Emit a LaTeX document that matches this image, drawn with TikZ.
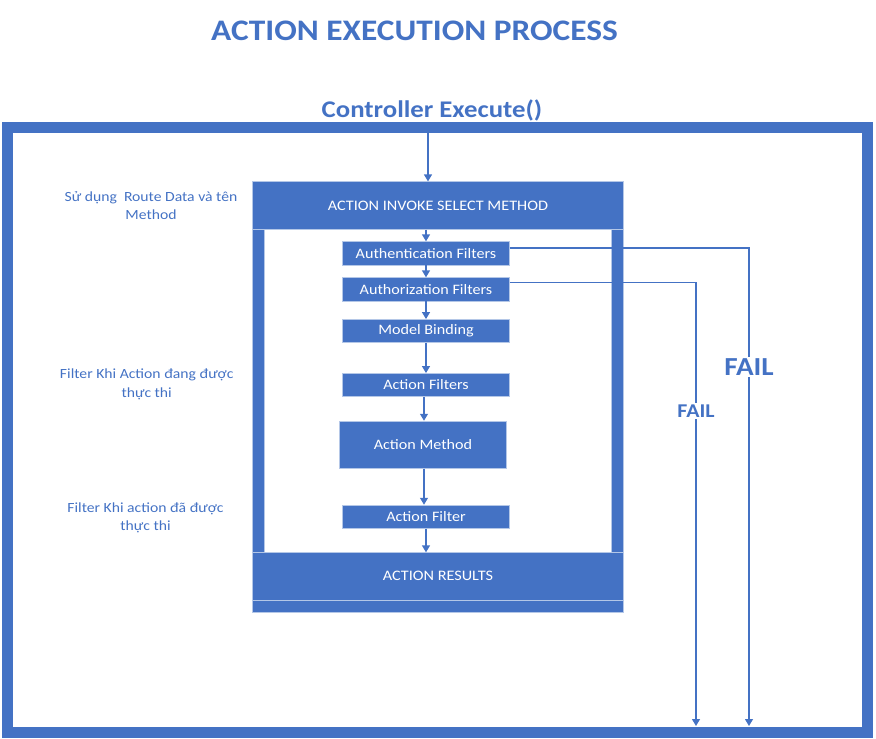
\documentclass[tikz,border=0pt]{standalone}
\usepackage{fontspec}
\setmainfont{Carlito}
\usepackage{graphicx}
\usetikzlibrary{arrows.meta}
\definecolor{ob}{HTML}{4472C4}
\definecolor{obl}{HTML}{B4C7E7}
\newcommand{\sx}[1]{\scalebox{1.12}[1]{#1}}
\tikzset{
  blk/.style={fill=ob, draw=obl, line width=0.6pt, inner sep=0pt, text=white},
  box/.style={blk, minimum width=166.6pt, minimum height=23.3pt, font=\fontsize{14.4}{16}\selectfont},
  wide/.style={blk, minimum width=370.6pt, font=\fontsize{14.5}{16}\selectfont},
  arr/.style={draw=ob, line width=1.3pt, -{Triangle[width=8pt,length=7pt]}},
  fline/.style={draw=ob, line width=1.1pt, -{Triangle[width=8pt,length=7pt]}},
  lbl/.style={text=ob, align=center, inner sep=0pt, font=\fontsize{14}{18.3}\selectfont},
  ttl/.style={text=ob, inner sep=0pt, font=\bfseries\fontsize{29.8}{32}\selectfont},
  failtxt/.style={text=ob, fill=white, inner sep=2pt, font=\bfseries},
}
\begin{document}
\begin{tikzpicture}[x=1pt,y=-1pt]
\useasboundingbox (0,0) rectangle (876,739);
% title texts
\node[ttl] (title) at (414.5,31) {\sx{ACTION EXECUTION PROCESS}};
\node[ttl, font=\bfseries\fontsize{23.9}{26}\selectfont] (ctrl) at (432,110) {\sx{Controller Execute()}};
% outer frame
\node[draw=ob, line width=11pt, minimum width=860pt, minimum height=605pt, inner sep=0pt] (frame) at (437.5,429.5) {};
% inner container
\node[wide, minimum height=47.6pt] (header) at (438,205.5) {\sx{ACTION INVOKE SELECT METHOD}};
\node[blk, minimum width=11.6pt, minimum height=323.4pt] (lbar) at (258.5,391) {};
\node[blk, minimum width=11.6pt, minimum height=323.4pt] (rbar) at (617.5,391) {};
\node[wide, minimum height=47.3pt] (results) at (438,576.3) {\sx{ACTION RESULTS}};
\node[wide, minimum height=12.3pt] (strip) at (438,606.2) {};
% steps
\node[box] (authn) at (426,253.3) {\sx{Authentication Filters}};
\node[box] (authz) at (426,289.3) {\sx{Authorization Filters}};
\node[box] (model) at (426,331) {\sx{Model Binding}};
\node[box] (afilters) at (426,385) {\sx{Action Filters}};
\node[box, minimum width=167.4pt, minimum height=47.3pt] (amethod) at (423,444.7) {\sx{Action Method}};
\node[box] (afilter) at (426,516.7) {\sx{Action Filter}};
% left labels
\node[lbl] (l1) at (151,205.8) {\sx{Sử dụng\ \ Route Data và tên}\\\sx{Method}};
\node[lbl] (l2) at (146.7,384.2) {\sx{Filter Khi Action đang được}\\\sx{thực thi}};
\node[lbl] (l3) at (145.5,517.5) {\sx{Filter Khi action đã được}\\\sx{thực thi}};
% arrows
\coordinate (c0) at (428,132.5);
\draw[arr] (c0) -- (c0 |- header.north);
\coordinate (c1) at (426,0);
\draw[arr] (c1 |- header.south) -- (c1 |- authn.north);
\draw[arr] (c1 |- authn.south) -- (c1 |- authz.north);
\draw[arr] (c1 |- authz.south) -- (c1 |- model.north);
\draw[arr] (c1 |- model.south) -- (c1 |- afilters.north);
\coordinate (c2) at (424,0);
\draw[arr] (c2 |- afilters.south) -- (c2 |- amethod.north);
\draw[arr] (c2 |- amethod.south) -- (c2 |- afilter.north);
\draw[arr] (c1 |- afilter.south) -- (c1 |- results.north);
% fail paths
\coordinate (f1) at (749,726);
\coordinate (f2) at (696,726);
\draw[fline] ([yshift=-6.6pt]authn.north east) -| (f1);
\draw[fline] ([yshift=-5pt]authz.north east) -| (f2);
\node[failtxt, font=\bfseries\fontsize{26}{28}\selectfont] (fail1) at (749,367) {\sx{FAIL}};
\node[failtxt, font=\bfseries\fontsize{19.5}{22}\selectfont] (fail2) at (696,411) {\sx{FAIL}};
\end{tikzpicture}
\end{document}
